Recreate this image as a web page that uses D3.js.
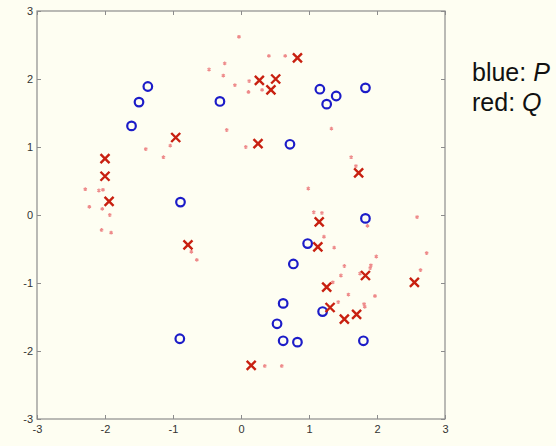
<!DOCTYPE html>
<html><head><meta charset="utf-8">
<script src="https://cdn.jsdelivr.net/npm/d3@7"></script>
<style>body{margin:0;background:#fefef2;}svg{display:block;}</style>
</head><body>
<svg id="c" width="556" height="446"></svg>
<script>
const ticks = [-3,-2,-1,0,1,2,3];
const tickLabels = ['-3','-2','-1','0','1','2','3'];
const pX = [-0.90,-0.89,-1.61,-1.50,-1.37,-0.31,0.72,1.16,1.26,1.40,1.83,1.83,0.98,0.77,0.62,0.53,0.62,0.83,1.20,1.80];
const pY = [-1.82,0.19,1.31,1.66,1.89,1.67,1.04,1.85,1.63,1.75,1.87,-0.05,-0.42,-0.72,-1.30,-1.60,-1.85,-1.87,-1.42,-1.85];
const qX = [-2.00,-2.00,-1.94,-0.96,0.25,0.27,0.51,0.44,0.83,1.73,-0.78,1.15,1.13,1.26,1.31,1.52,1.70,1.83,2.55,0.15];
const qY = [0.83,0.57,0.20,1.14,1.05,1.98,2.00,1.84,2.31,0.62,-0.44,-0.10,-0.47,-1.06,-1.36,-1.53,-1.46,-0.89,-0.99,-2.21];
const sX = [-1.40,-1.04,-1.14,-2.29,-2.09,-2.03,-2.23,-2.04,-1.93,-2.05,-1.91,-0.73,-0.65,-0.03,-0.24,-0.47,-0.26,-0.09,0.12,0.11,0.31,0.41,0.65,-0.21,0.07,1.33,1.62,1.69,0.99,1.07,1.19,2.59,1.86,1.22,1.37,1.99,2.73,1.91,1.90,2.64,1.52,1.47,1.75,1.35,1.58,1.97,1.43,1.81,1.82,0.35,0.60];
const sY = [0.97,1.02,0.85,0.38,0.36,0.37,0.12,0.09,0.00,-0.22,-0.26,-0.54,-0.66,2.62,2.23,2.14,2.05,1.91,1.97,1.81,1.84,2.34,2.34,1.25,1.00,1.27,0.85,0.72,0.39,0.04,0.03,-0.03,-0.16,-0.32,-0.48,-0.61,-0.56,-0.74,-0.78,-0.81,-0.75,-0.89,-0.86,-0.99,-1.17,-1.19,-1.28,-1.31,-1.35,-2.22,-2.22];

const svg = d3.select('#c');
const L = 37, R = 445, T = 11, B = 419;
const x = d3.scaleLinear().domain([-3,3]).range([L,R]);
const y = d3.scaleLinear().domain([-3,3]).range([B,T]);
const axisColor = '#8c8c8c';
const font = 'Liberation Sans, Arial, sans-serif';
const fmt = d => tickLabels[ticks.indexOf(d)];

function styleAxis(g, labels){
  g.select('.domain').remove();
  g.selectAll('.tick line').attr('stroke', axisColor);
  g.selectAll('.tick text').attr('fill', labels ? '#333' : 'none')
    .attr('font-family', font).attr('font-size', 11);
}
svg.append('g').attr('transform',`translate(0,${B})`)
  .call(d3.axisBottom(x).tickValues(ticks).tickFormat(fmt).tickSizeInner(-4).tickSizeOuter(0).tickPadding(6))
  .call(g=>styleAxis(g,true));
svg.append('g').attr('transform',`translate(${L},0)`)
  .call(d3.axisLeft(y).tickValues(ticks).tickFormat(fmt).tickSizeInner(-4).tickSizeOuter(0).tickPadding(4))
  .call(g=>styleAxis(g,true));
svg.append('g').attr('transform',`translate(0,${T})`)
  .call(d3.axisTop(x).tickValues(ticks).tickSizeInner(-4).tickSizeOuter(0).tickFormat(''))
  .call(g=>styleAxis(g,false));
svg.append('g').attr('transform',`translate(${R},0)`)
  .call(d3.axisRight(y).tickValues(ticks).tickSizeInner(-4).tickSizeOuter(0).tickFormat(''))
  .call(g=>styleAxis(g,false));
svg.append('rect').attr('x',L).attr('y',T).attr('width',R-L).attr('height',B-T)
  .attr('fill','none').attr('stroke',axisColor).attr('stroke-width',1.2);

// small samples
svg.append('g').selectAll('path').data(sX).join('path')
  .attr('transform',(d,i)=>`translate(${x(d)},${y(sY[i])})`)
  .attr('d', d3.symbol(d3.symbolAsterisk, 10)())
  .attr('fill','none').attr('stroke','#ee8a8a').attr('stroke-width',1.2);

// blue circles
svg.append('g').selectAll('circle').data(pX).join('circle')
  .attr('cx',d=>x(d)).attr('cy',(d,i)=>y(pY[i])).attr('r',4.3)
  .attr('fill','none').attr('stroke','#1c1cc8').attr('stroke-width',2.2);

// red crosses
svg.append('g').selectAll('path').data(qX).join('path')
  .attr('transform',(d,i)=>`translate(${x(d)},${y(qY[i])})`)
  .attr('d','M-4.5,-4.5L4.5,4.5M-4.5,4.5L4.5,-4.5')
  .attr('fill','none').attr('stroke','#c82010').attr('stroke-width',2.4);

// legend
const leg = svg.append('g').attr('font-family',font).attr('font-size',25).attr('fill','#111');
const t1 = leg.append('text').attr('x',472).attr('y',81);
t1.append('tspan').text('blue: ');
t1.append('tspan').attr('font-style','italic').text('P');
const t2 = leg.append('text').attr('x',472).attr('y',111);
t2.append('tspan').text('red: ');
t2.append('tspan').attr('font-style','italic').text('Q');
</script>
</body></html>
